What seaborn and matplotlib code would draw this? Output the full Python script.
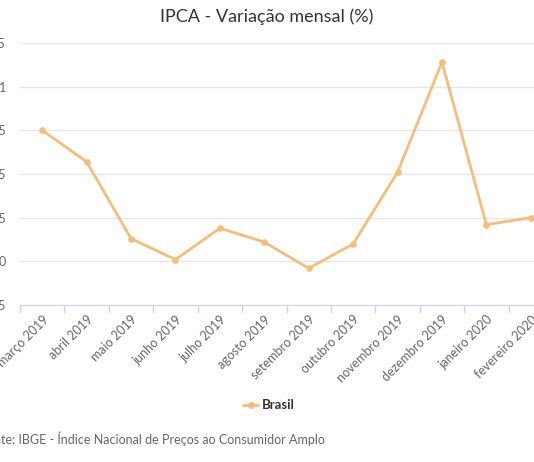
import matplotlib
matplotlib.use("Agg")
import matplotlib.pyplot as plt
import seaborn as sns
import pandas as pd
import numpy as np

months = ["março 2019","abril 2019","maio 2019","junho 2019","julho 2019","agosto 2019",
          "setembro 2019","outubro 2019","novembro 2019","dezembro 2019","janeiro 2020","fevereiro 2020"]
values = [0.75, 0.57, 0.13, 0.01, 0.19, 0.11, -0.04, 0.10, 0.51, 1.14, 0.21, 0.25]
yticks = [-0.25, 0, 0.25, 0.5, 0.75, 1, 1.25]

sns.set_style("white")
plt.rcParams['font.family'] = ['Lato', 'DejaVu Sans']
color = "#f3be7c"

fig = plt.figure(figsize=(5.34, 4.62), dpi=100)
ax = fig.add_axes([20/534, 1-305/462, 533/534, 262/462])
df = pd.DataFrame({"x": np.arange(len(months)), "v": values})
sns.lineplot(data=df, x="x", y="v", ax=ax, color=color, lw=2, marker="o", markersize=4,
             markeredgecolor=color, legend=False)
ax.set_xlim(-0.5, 11.5)
ax.set_ylim(-0.25, 1.25)
ax.set_yticks(yticks)
ax.set_yticklabels([f"{t:g}" for t in yticks], color="#666666", fontsize=9)
ax.tick_params(axis="y", length=0, pad=10)
ax.set_xticks(np.arange(len(months)))
ax.set_xticklabels(months, rotation=45, ha="right", rotation_mode="anchor", color="#666666", fontsize=9)
ax.tick_params(axis="x", length=0, pad=6)
for b in np.arange(-0.5, 12, 1):
    ax.plot([b, b], [-0.25, -0.25 - 0.04], color="#ccd6eb", lw=1, clip_on=False)
ax.grid(axis="y", color="#e6e6e6", lw=1)
for s in ["top", "right", "left"]:
    ax.spines[s].set_visible(False)
ax.spines["bottom"].set_color("#ccd6eb")
ax.set_xlabel(""); ax.set_ylabel("")

fig.text(0.5, 1-17/462, "IPCA - Variação mensal (%)", ha="center", va="center", fontsize=13, color="#333333")
fig.lines.append(plt.Line2D([243/534, 258/534], [1-405/462]*2, color=color, lw=2, transform=fig.transFigure))
fig.lines.append(plt.Line2D([250.5/534], [1-405/462], color=color, marker="o", markersize=4, transform=fig.transFigure))
fig.text(262/534, 1-405/462, "Brasil", ha="left", va="center", fontsize=9.5, fontweight="bold", color="#333333")
fig.text(-20/534, 1-439/462, "Fonte: IBGE - Índice Nacional de Preços ao Consumidor Amplo", ha="left", va="center",
         fontsize=9, color="#666666")
fig.savefig("out.png", dpi=100)
